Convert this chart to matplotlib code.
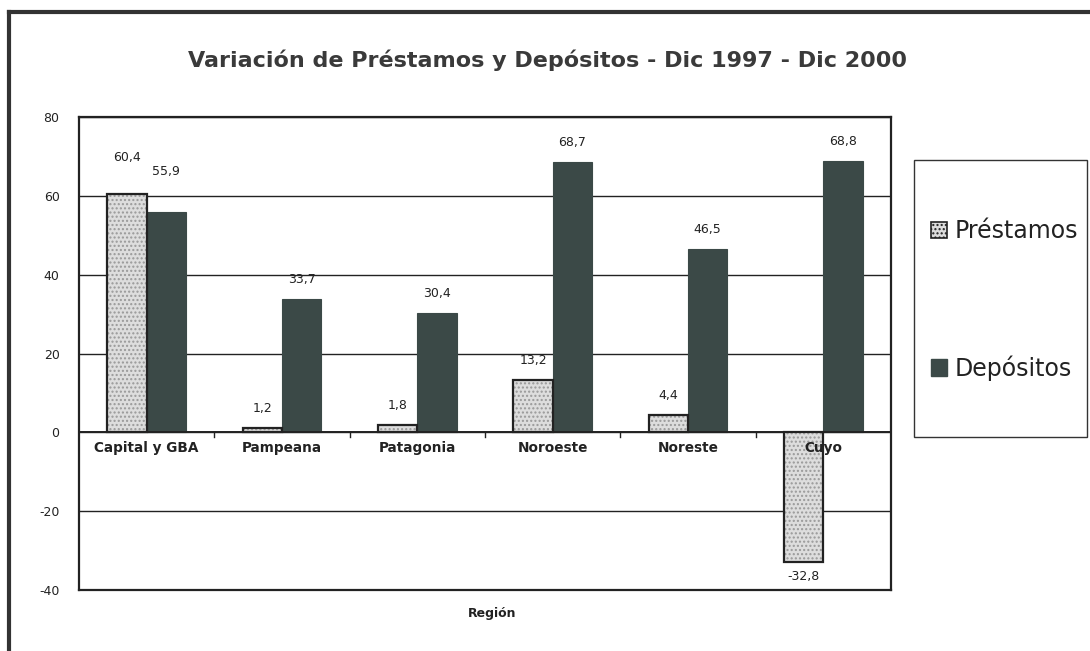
import matplotlib
matplotlib.use("Agg")
import matplotlib.pyplot as plt
from matplotlib.patches import Rectangle, Patch
from matplotlib.lines import Line2D
import numpy as np

categories = ["Capital y GBA", "Pampeana", "Patagonia", "Noroeste", "Noreste", "Cuyo"]
prestamos = [60.4, 1.2, 1.8, 13.2, 4.4, -32.8]
depositos = [55.9, 33.7, 30.4, 68.7, 46.5, 68.8]
prest_labels = ["60,4", "1,2", "1,8", "13,2", "4,4", "-32,8"]
dep_labels = ["55,9", "33,7", "30,4", "68,7", "46,5", "68,8"]
yticks = [-40, -20, 0, 20, 40, 60, 80]

W, H = 1090, 651
fig = plt.figure(figsize=(W / 100, H / 100), dpi=100)
fig.patch.set_facecolor("white")

ax = fig.add_axes([79 / W, 1 - 590 / H, (891 - 79) / W, (590 - 117) / H])
x = np.arange(len(categories))
bw = 0.29
dark = "#3b4947"

# Préstamos: hatched light bars with black border
ax.bar(x - bw / 2, prestamos, bw, color="#dddddd", edgecolor="#999999",
       hatch="....", linewidth=0, zorder=3)
ax.bar(x - bw / 2, prestamos, bw, fill=False, edgecolor="#222222",
       linewidth=1.6, zorder=4)
ax.bar(x + bw / 2, depositos, bw, color=dark, edgecolor=dark, linewidth=0.8, zorder=3)

for i, (v, lab) in enumerate(zip(prestamos, prest_labels)):
    if i == 0:
        off = 30
    elif v >= 0:
        off = 13
    else:
        off = -8
    ax.annotate(lab, (x[i] - bw / 2, v), xytext=(0, off), textcoords="offset pixels",
                ha="center", va="bottom" if off > 0 else "top", fontsize=9, color="#222222")
for i, (v, lab) in enumerate(zip(depositos, dep_labels)):
    off = 34 if i == 0 else 13
    ax.annotate(lab, (x[i] + bw / 2, v), xytext=(0, off), textcoords="offset pixels",
                ha="center", va="bottom", fontsize=9, color="#222222")

ax.set_ylim(-40, 80)
ax.set_xlim(-0.5, len(categories) - 0.5)
ax.set_yticks(yticks)
ax.set_yticklabels([str(t) for t in yticks], fontsize=9, color="#222222")
ax.tick_params(axis="y", length=0, pad=14)
ax.yaxis.grid(True, color="#222222", linewidth=1.0, zorder=1)
ax.set_axisbelow(True)
ax.set_xticks([])
for s in ax.spines.values():
    s.set_color("#222222")
    s.set_linewidth(1.6)

# zero line and category ticks
ax.axhline(0, color="#222222", linewidth=1.4, zorder=5)
for b in np.arange(0.5, len(categories) - 0.5, 1.0):
    ax.plot([b, b], [-1.2, 0], color="#222222", linewidth=1.0, zorder=5)
for i, c in enumerate(categories):
    ax.annotate(c, (x[i], 0), xytext=(0, -9), textcoords="offset pixels",
                ha="center", va="top", fontsize=9.8, fontweight="bold",
                color="#222222", zorder=6)

fig.text(492 / W, 1 - 613 / H, "Región", ha="center", va="center",
         fontsize=9, fontweight="bold", color="#222222")
fig.text(548 / W, 1 - 60 / H, "Variación de Préstamos y Depósitos - Dic 1997 - Dic 2000",
         ha="center", va="center", fontsize=16, fontweight="bold", color="#3a3a3a")

# legend box
fig.patches.append(Rectangle((914 / W, 1 - 437 / H), (1087 - 914) / W, (437 - 160) / H,
                             transform=fig.transFigure, fill=False,
                             edgecolor="#333333", linewidth=1.0))
handles = [Patch(facecolor="#dddddd", edgecolor="#222222", hatch="....", linewidth=1.2),
           Patch(facecolor=dark, edgecolor=dark)]
fig.legend(handles, ["Préstamos", "Depósitos"], loc="center left",
           bbox_to_anchor=(914 / W, 1 - 300 / H), frameon=False, fontsize=17,
           labelspacing=4.75, handlelength=0.7, handleheight=0.7, handletextpad=0.3,
           borderpad=0.2, labelcolor="#222222")

# outer border (top and left)
fig.add_artist(Line2D([9 / W, 9 / W], [0, 1 - 12 / H], transform=fig.transFigure,
                      color="#333333", linewidth=3))
fig.add_artist(Line2D([9 / W, 1], [1 - 12 / H, 1 - 12 / H], transform=fig.transFigure,
                      color="#333333", linewidth=3))

fig.savefig("out.png", dpi=100)
